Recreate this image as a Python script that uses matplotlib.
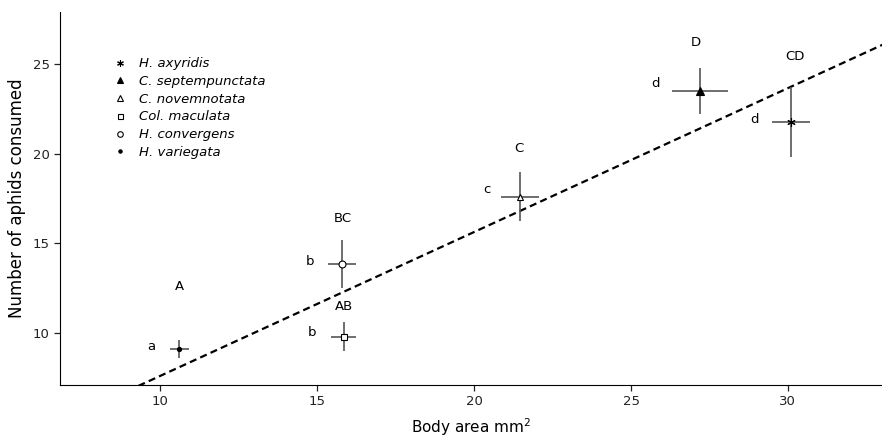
import matplotlib.pyplot as plt

plt.rcParams['font.family'] = ['DejaVu Sans']

# species data (means with standard errors)
species = ['H. axyridis', 'C. septempunctata', 'C. novemnotata',
           'Col. maculata', 'H. convergens', 'H. variegata']
body_area = [30.1, 27.2, 21.47, 15.85, 15.8, 10.6]
body_se = [0.6, 0.9, 0.6, 0.4, 0.45, 0.3]
aphids = [21.75, 23.5, 17.6, 9.8, 13.85, 9.1]
aphids_se = [1.95, 1.3, 1.37, 0.8, 1.35, 0.5]
upper_letters = ['CD', 'D', 'C', 'AB', 'BC', 'A']
lower_letters = ['d', 'd', 'c', 'b', 'b', 'a']

# regression line
slope = 0.802
intercept = -0.41
line_x = [9.3, 33.5]

markers = [(6, 2, 0), '^', '^', 's', 'o', 'o']
facecolors = ['black', 'black', 'white', 'white', 'white', 'black']
msizes = [6, 6, 5, 4.5, 5, 3]

# label offsets in points (dx, dy)
upper_off = [(3, 47), (-3, 35), (-1, 35), (0, 22), (0, 33), (0, 45)]
lower_off = [(-26, 2), (-32, 5), (-24, 5), (-23, 3), (-23, 2), (-20, 2)]

fig = plt.figure(figsize=(8.82, 4.42), dpi=100)
ax = fig.add_axes([0.068, 0.129, 0.932, 0.844])

ax.plot(line_x, [slope * v + intercept for v in line_x], color='black',
        linestyle=(0, (3.2, 1.9)), linewidth=1.6, zorder=1)

for i in range(len(species)):
    ax.errorbar(body_area[i], aphids[i], xerr=body_se[i], yerr=aphids_se[i],
                fmt='none', ecolor='#555555', elinewidth=1.2, capsize=0, zorder=2)
    ax.plot(body_area[i], aphids[i], linestyle='none', marker=markers[i],
            markersize=msizes[i], markerfacecolor=facecolors[i],
            markeredgecolor='black', markeredgewidth=0.8, zorder=3,
            label=species[i])
    ax.annotate(upper_letters[i], (body_area[i], aphids[i]),
                xytext=upper_off[i], textcoords='offset points',
                ha='center', va='center', fontsize=9.5)
    ax.annotate(lower_letters[i], (body_area[i], aphids[i]),
                xytext=lower_off[i], textcoords='offset points',
                ha='center', va='center', fontsize=9.5)

ax.set_xlim(6.8, 33.0)
ax.set_ylim(7.1, 27.9)
ax.set_xticks([10, 15, 20, 25, 30])
ax.set_yticks([10, 15, 20, 25])
ax.spines['top'].set_visible(False)
ax.spines['right'].set_visible(False)
ax.tick_params(labelsize=9.5, length=4, width=0.9, colors='#222222')
ax.set_xlabel('Body area mm$^2$', fontsize=11, labelpad=6)
ax.set_ylabel('Number of aphids consumed', fontsize=12, labelpad=5)

leg = ax.legend(loc='upper left', bbox_to_anchor=(0.055, 0.893), frameon=False,
                prop={'style': 'italic', 'size': 9.5}, handletextpad=0.75,
                labelspacing=0.36, handlelength=1.4, markerscale=0.8,
                borderaxespad=0)

fig.savefig('out.png', dpi=100)
